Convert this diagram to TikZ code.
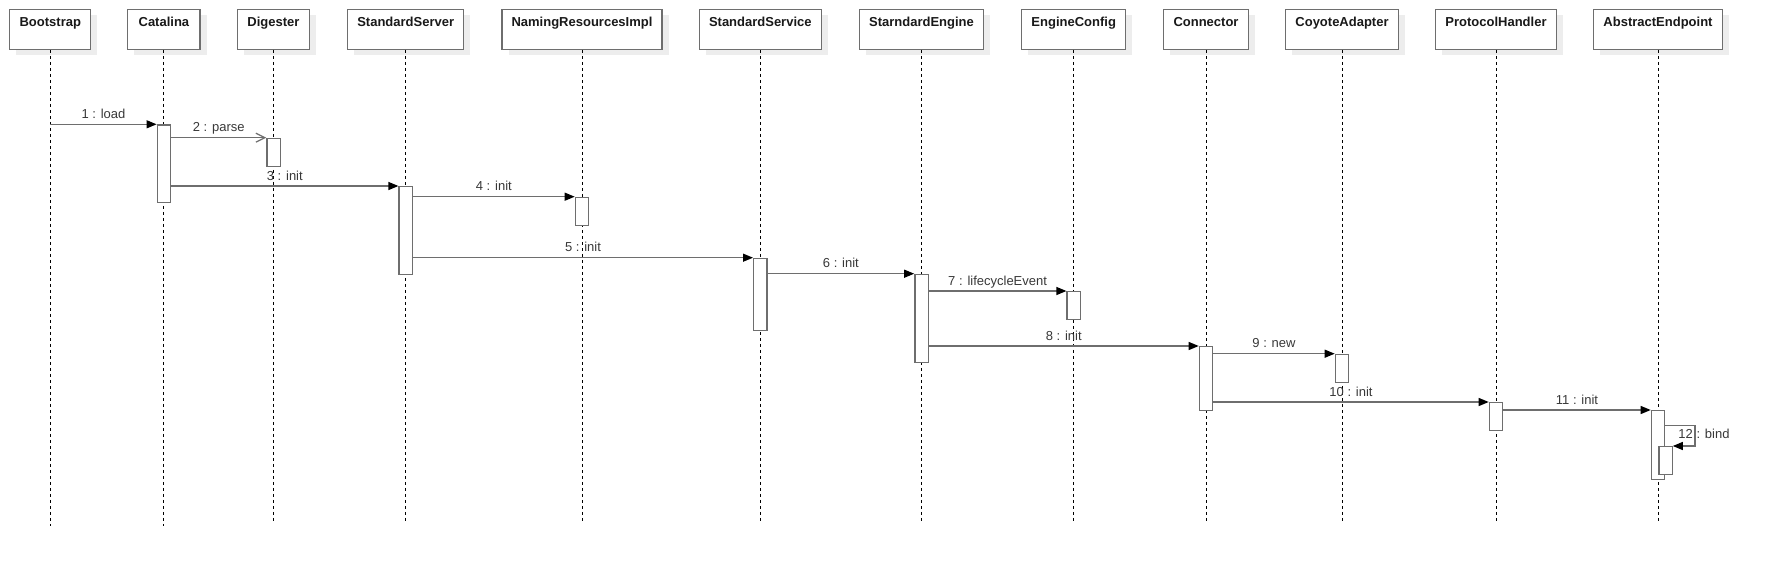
\documentclass[tikz,border=0pt]{standalone}
\usepackage{fontspec}
\setmainfont{Liberation Sans}
\usepackage{tikz}
\usetikzlibrary{arrows.meta,shadows,calc}
\usepackage{xcolor}
\definecolor{boxgray}{HTML}{6E6E6E}
\definecolor{shadowgray}{HTML}{EDEDED}
\definecolor{textgray}{HTML}{383838}
\tikzset{
  head/.style={draw=boxgray, line width=1.3pt, fill=white, inner sep=0pt,
    text height=17.4pt, text depth=22.6pt, text=black!90,
    font=\fontsize{13}{15}\selectfont\bfseries,
    general shadow={shadow xshift=6.5pt, shadow yshift=-6pt, fill=shadowgray, draw=none}},
  life/.style={draw=black, line width=0.9pt, dash pattern=on 3.5pt off 2.5pt},
  act/.style={draw=boxgray, line width=1.3pt, fill=white, minimum width=13.3pt,
    inner sep=0pt, anchor=north},
  msg/.style={draw=boxgray, line width=1.2pt, -{Triangle[length=10pt,width=8pt,color=black]}},
  lbltext/.style={anchor=base, inner sep=0pt, text=textgray, font=\fontsize{13}{15}\selectfont},
  lbl/.style={lbltext, midway, yshift=6pt}
}

\begin{document}
\begin{tikzpicture}[x=1pt, y=-1pt]
\useasboundingbox (0,0) rectangle (1786,570);

\node[head, minimum width=81pt] (bootstrap) at (50.3,29.3) {Bootstrap};
\node[head, minimum width=72.3pt] (catalina) at (163.9,29.3) {Catalina};
\node[head, minimum width=71.6pt] (digester) at (273.5,29.3) {Digester};
\node[head, minimum width=116pt] (server) at (405.7,29.3) {StandardServer};
\node[head, minimum width=160pt] (naming) at (582,29.3) {NamingResourcesImpl};
\node[head, minimum width=122pt] (service) at (760.3,29.3) {StandardService};
\node[head, minimum width=123.6pt] (engine) at (921.5,29.3) {StarndardEngine};
\node[head, minimum width=104pt] (engineconfig) at (1073.7,29.3) {EngineConfig};
\node[head, minimum width=84.6pt] (connector) at (1206,29.3) {Connector};
\node[head, minimum width=112.6pt] (coyote) at (1342,29.3) {CoyoteAdapter};
\node[head, minimum width=120.6pt] (protocol) at (1496,29.3) {ProtocolHandler};
\node[head, minimum width=128.6pt] (endpoint) at (1658,29.3) {AbstractEndpoint};

\draw[life] (bootstrap.south) -- (bootstrap.south |- 0,526);
\draw[life] (catalina.south) -- (catalina.south |- 0,526);
\draw[life] (digester.south) -- (digester.south |- 0,521);
\draw[life] (server.south) -- (server.south |- 0,521);
\draw[life] (naming.south) -- (naming.south |- 0,521);
\draw[life] (service.south) -- (service.south |- 0,521);
\draw[life] (engine.south) -- (engine.south |- 0,521);
\draw[life] (engineconfig.south) -- (engineconfig.south |- 0,521);
\draw[life] (connector.south) -- (connector.south |- 0,521);
\draw[life] (coyote.south) -- (coyote.south |- 0,521);
\draw[life] (protocol.south) -- (protocol.south |- 0,521);
\draw[life] (endpoint.south) -- (endpoint.south |- 0,521);

\node[act, minimum height=77.7pt] (catalinaA) at (catalina |- 0,124.3) {};
\node[act, minimum height=28.3pt] (digesterA) at (digester |- 0,137.7) {};
\node[act, minimum height=87.5pt] (serverA) at (server |- 0,186) {};
\node[act, minimum height=28pt] (namingA) at (naming |- 0,196.7) {};
\node[act, minimum height=72.3pt] (serviceA) at (service |- 0,257.7) {};
\node[act, minimum height=88.3pt] (engineA) at (engine |- 0,273.7) {};
\node[act, minimum height=28pt] (engineconfigA) at (engineconfig |- 0,291) {};
\node[act, minimum height=64pt] (connectorA) at (connector |- 0,346) {};
\node[act, minimum height=28pt] (coyoteA) at (coyote |- 0,353.7) {};
\node[act, minimum height=28pt] (protocolA) at (protocol |- 0,402) {};
\node[act, minimum height=68.7pt] (endpointA) at (endpoint |- 0,410) {};
\node[act, minimum height=28pt, xshift=7.5pt] (bindA) at (endpoint |- 0,446) {};

\coordinate (loadstart) at (bootstrap |- catalinaA.north);
\draw[msg] (loadstart) -- node[lbl] {1 : load} (catalinaA.north west);
\draw[msg, -{Straight Barb[length=9pt,width=9pt]}] (catalinaA.east |- digesterA.north) -- node[lbl] {2 : parse} (digesterA.north west);
\draw[msg] (catalinaA.east |- serverA.north) -- node[lbl] {3 : init} (serverA.north west);
\draw[msg] (serverA.east |- namingA.north) -- node[lbl] {4 : init} (namingA.north west);
\draw[msg] (serverA.east |- serviceA.north) -- node[lbl] {5 : init} (serviceA.north west);
\draw[msg] (serviceA.east |- engineA.north) -- node[lbl] {6 : init} (engineA.north west);
\draw[msg] (engineA.east |- engineconfigA.north) -- node[lbl] {7 : lifecycleEvent} (engineconfigA.north west);
\draw[msg] (engineA.east |- connectorA.north) -- node[lbl] {8 : init} (connectorA.north west);
\draw[msg] (connectorA.east |- coyoteA.north) -- node[lbl] {9 : new} (coyoteA.north west);
\draw[msg] (connectorA.east |- protocolA.north) -- node[lbl] {10 : init} (protocolA.north west);
\draw[msg] (protocolA.east |- endpointA.north) -- node[lbl] {11 : init} (endpointA.north west);
\coordinate (bindstart) at (endpointA.east |- 0,425.7);
\draw[msg] (bindstart) -- ++(29.7,0) |- (bindA.north east);
\node[lbltext] (bindlabel) at (1704,438.7) {12 : bind};
\end{tikzpicture}
\end{document}
